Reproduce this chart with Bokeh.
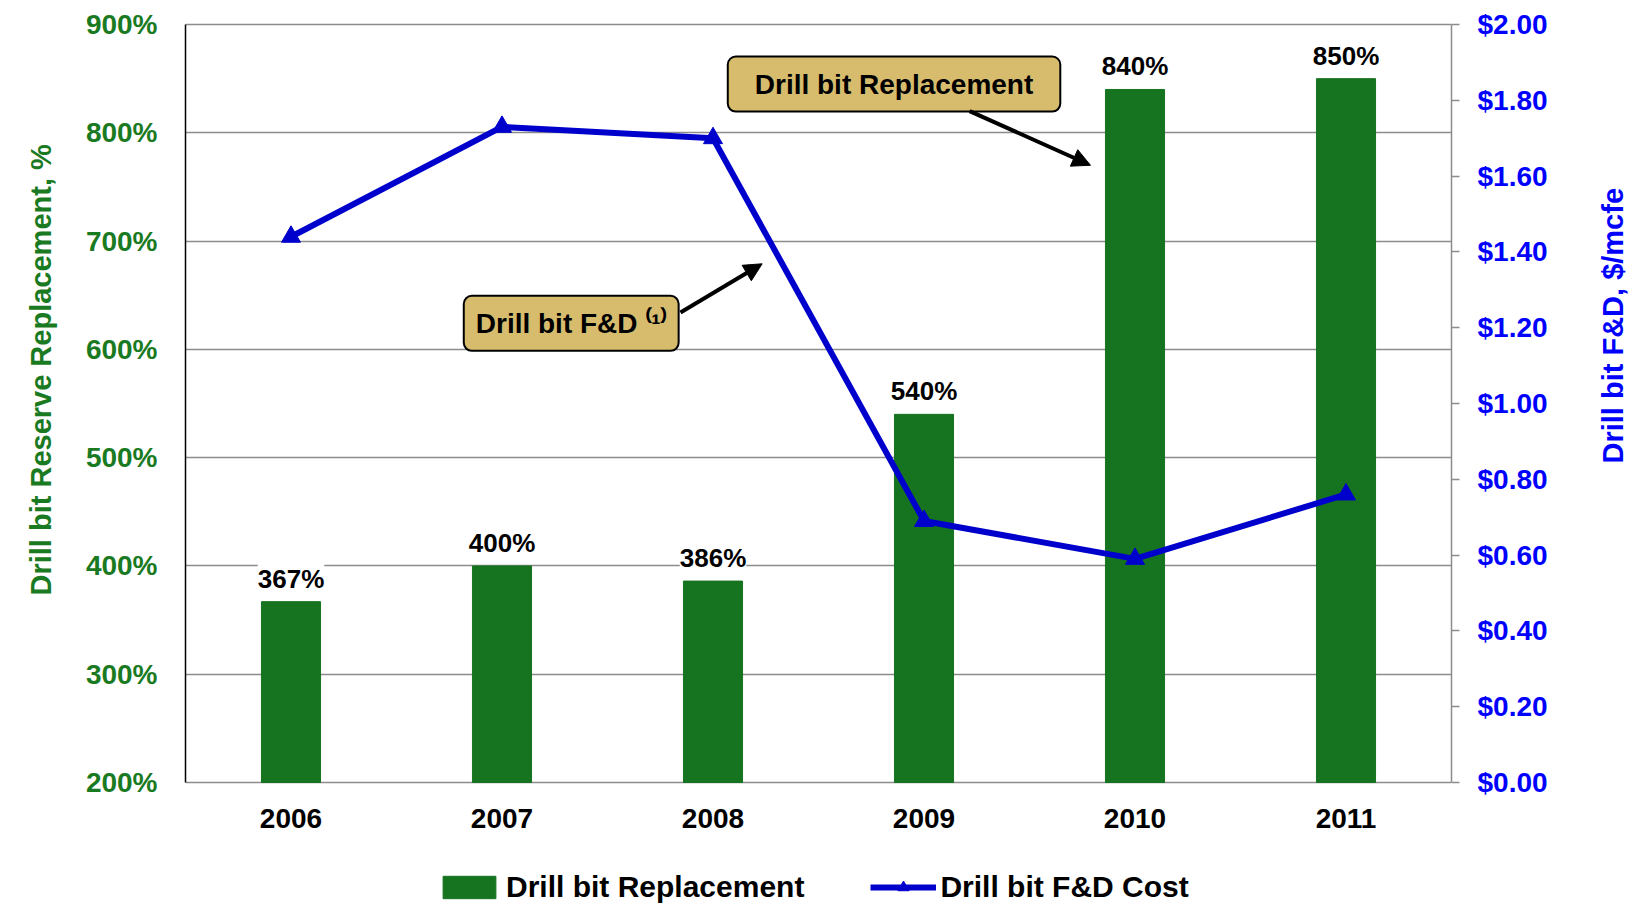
import numpy as np
from bokeh.plotting import figure
from bokeh.models import (Range1d, LinearAxis, FixedTicker, LabelSet, Label, Arrow, NormalHead, Title,
                          Legend, LegendItem, ColumnDataSource, PrintfTickFormatter, NumeralTickFormatter)
from bokeh.core.properties import value
from bokeh.embed import file_html
from bokeh.resources import INLINE

# ---------------- data ----------------
years = ["2006", "2007", "2008", "2009", "2010", "2011"]
replacement_pct = [367, 400, 386, 540, 840, 850]
replacement_labels = ["367%", "400%", "386%", "540%", "840%", "850%"]
fd_cost = [1.44, 1.73, 1.70, 0.69, 0.59, 0.76]
left_ticks = [200, 300, 400, 500, 600, 700, 800, 900]
right_ticks = [0.0, 0.2, 0.4, 0.6, 0.8, 1.0, 1.2, 1.4, 1.6, 1.8, 2.0]

FONT = "Liberation Sans"
GREEN_BAR = "#16731f"
GREEN_TXT = "#1a7a22"
BLUE_LINE = "#0000cc"
BLUE_TXT = "#0000ff"
GRID = "#8c8c8c"
TAN = "#d8bc6e"

# layout (pixels): the frame runs down to the canvas bottom so that the
# year labels and the legend can be drawn inside it
W, H = 1652, 904
LEFT, RIGHT, TOP = 185, 201, 22
PLOT_H = 758                      # height of the 200%..900% area
BELOW = H - TOP - 2 - PLOT_H      # space under the 200% line
y_lo, y_hi = min(left_ticks), max(left_ticks)
r_lo, r_hi = min(right_ticks), max(right_ticks)
ppu = PLOT_H / (y_hi - y_lo)
rpu = PLOT_H / (r_hi - r_lo)

xpos = [i + 0.5 for i in range(len(years))]
src = ColumnDataSource(dict(x=xpos, pct=replacement_pct, lab=replacement_labels,
                            cost=fd_cost, year=years))

p = figure(width=W, height=H, output_backend="svg", toolbar_location=None,
           x_range=Range1d(0, len(years)),
           y_range=Range1d(y_lo - BELOW / ppu, y_hi + 2 / ppu),
           min_border_left=LEFT, min_border_right=RIGHT, min_border_top=TOP, min_border_bottom=0)
p.extra_y_ranges = {"cost": Range1d(r_lo - BELOW / rpu, r_hi + 2 / rpu)}
p.outline_line_color = None
p.xaxis.visible = False
p.xgrid.visible = False

bars = p.vbar(x="x", top="pct", bottom=y_lo, width=0.28, source=src,
              fill_color=GREEN_BAR, line_color=GREEN_BAR)
line = p.line("x", "cost", source=src, y_range_name="cost", line_color=BLUE_LINE, line_width=6)
pts = p.scatter("x", "cost", source=src, y_range_name="cost", marker="triangle", size=19,
                fill_color=BLUE_LINE, line_color=BLUE_LINE)

# category (year) labels under the 200% line
p.add_layout(LabelSet(x="x", y=y_lo, text="year", source=src, y_offset=-36,
                      text_align="center", text_baseline="middle",
                      text_font=value(FONT), text_font_size=value("28px"),
                      text_font_style="bold", text_color="black"))

# left axis
ya = p.yaxis[0]
ya.bounds = (y_lo, y_hi)
ya.ticker = FixedTicker(ticks=left_ticks)
ya.formatter = PrintfTickFormatter(format="%d%%")
ya.axis_line_color = "black"
ya.axis_line_width = 1.5
ya.major_tick_line_color = None
ya.minor_tick_line_color = None
ya.major_label_text_font = FONT
ya.major_label_text_font_size = "28px"
ya.major_label_text_font_style = "bold"
ya.major_label_text_color = GREEN_TXT
ya.major_label_standoff = 22
p.ygrid.ticker = FixedTicker(ticks=left_ticks)
p.ygrid.grid_line_color = GRID
p.ygrid.grid_line_width = 1.5

# left axis title (as a side title so that it can be shifted along the axis)
p.add_layout(Title(text="Drill bit Reserve Replacement, %", align="left", offset=309,
                   vertical_align="top", standoff=47, text_font=FONT, text_font_size="29px",
                   text_font_style="bold", text_color=GREEN_TXT), "left")

# right axis
ra = LinearAxis(y_range_name="cost", ticker=FixedTicker(ticks=right_ticks),
                formatter=NumeralTickFormatter(format="$0.00"), bounds=(r_lo, r_hi))
ra.axis_line_color = GRID
ra.axis_line_width = 1.5
ra.major_tick_line_color = GRID
ra.major_tick_line_width = 1.5
ra.major_tick_out = 8
ra.major_tick_in = 0
ra.minor_tick_line_color = None
ra.major_label_text_font = FONT
ra.major_label_text_font_size = "28px"
ra.major_label_text_font_style = "bold"
ra.major_label_text_color = BLUE_TXT
ra.major_label_standoff = 18
ra.axis_label = "Drill bit F&D, $/mcfe"
ra.axis_label_text_font = FONT
ra.axis_label_text_font_size = "29px"
ra.axis_label_text_font_style = "bold"
ra.axis_label_text_color = BLUE_TXT
ra.axis_label_standoff = 62
if "axis_label_orientation" in ra.properties():
    ra.axis_label_orientation = np.pi / 2
p.add_layout(ra, "right")

# bar value labels
p.add_layout(LabelSet(x="x", y="pct", text="lab", source=src, y_offset=23,
                      text_align="center", text_baseline="middle",
                      text_font=value(FONT), text_font_size=value("26px"),
                      text_font_style="bold", text_color="black",
                      background_fill_color="white"))

# callouts
p.add_layout(Label(x=3.358, y=845, text="Drill bit Replacement", text_align="center",
                   text_baseline="middle", text_font=FONT, text_font_size="28px",
                   text_font_style="bold", text_color="black", background_fill_color=TAN,
                   border_line_color="black", border_line_width=2, border_radius=8,
                   padding=(27, 12)))
p.add_layout(Label(x=1.828, y=624, text="Drill bit F&D \u207d\u00b9\u207e", text_align="center",
                   text_baseline="middle", text_font=FONT, text_font_size="28px",
                   text_font_style="bold", text_color="black", background_fill_color=TAN,
                   border_line_color="black", border_line_width=2, border_radius=8,
                   padding=(12, 12)))
p.add_layout(Arrow(end=NormalHead(size=18, fill_color="black", line_color="black"),
                   x_start=3.716, y_start=820, x_end=4.289, y_end=770,
                   line_width=4, line_color="black"))
p.add_layout(Arrow(end=NormalHead(size=18, fill_color="black", line_color="black"),
                   x_start=2.346, y_start=634, x_end=2.733, y_end=679,
                   line_width=4, line_color="black"))

# legend at the bottom of the (extended) frame
legend = Legend(items=[LegendItem(label="Drill bit Replacement", renderers=[bars]),
                       LegendItem(label="Drill bit F&D Cost", renderers=[line, pts])],
                orientation="horizontal", location=(251, 0), padding=0, margin=0,
                spacing=66, glyph_width=66, glyph_height=28, label_standoff=4,
                label_text_font=FONT, label_text_font_size="30px", label_text_font_style="bold",
                label_text_color="black", border_line_color=None, background_fill_alpha=0)
p.add_layout(legend, "center")

open("out.html", "w").write(file_html(p, INLINE))
